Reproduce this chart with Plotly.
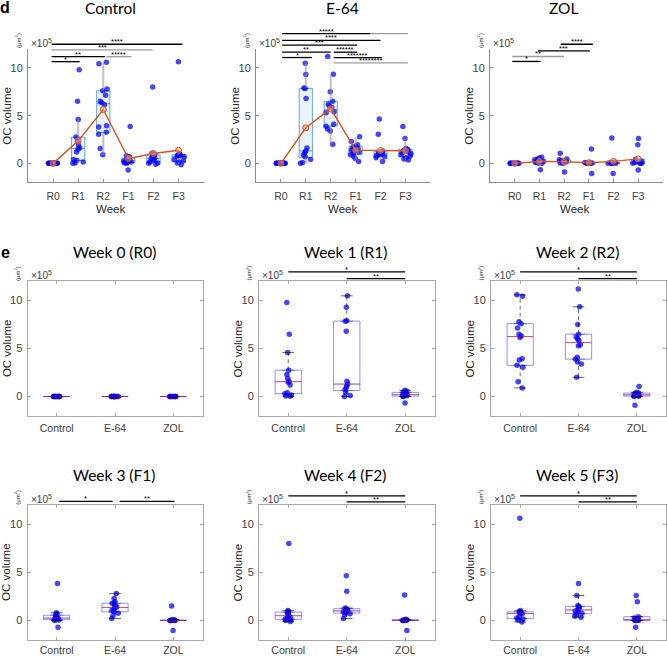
import numpy as np
import plotly.graph_objects as go

W, H = 667, 656

weeks = ["R0", "R1", "R2", "F1", "F2", "F3"]
groups = ["Control", "E-64", "ZOL"]
week_titles = ["Week 0 (R0)", "Week 1 (R1)", "Week 2 (R2)",
               "Week 3 (F1)", "Week 4 (F2)", "Week 5 (F3)"]

# OC volume (x 1e5 um^3) per animal
control_R0 = [0, 0, 0, 0, 0, 0, 0, 0, 0, 0, 0, 0, 0]
control_R1 = [9.8, 6.5, 4.6, 2.75, 2.3, 1.9, 1.6, 1.5, 1.2, 0.4, 0.3, 0.15, 0.05, 0.02]
control_R2 = [10.6, 10.45, 7.8, 7.6, 7.15, 6.5, 6.35, 6.15, 3.95, 3.8, 3.25, 3.05, 1.55, 0.9]
control_F1 = [3.85, 0.8, 0.7, 0.5, 0.4, 0.3, 0.25, 0.2, 0.15, 0.1, 0.05, 0.0, -0.7]
control_F2 = [8.0, 1.05, 0.95, 0.85, 0.75, 0.6, 0.5, 0.35, 0.25, 0.15, 0.05, 0.0, -0.1]
control_F3 = [10.65, 1.05, 0.95, 0.85, 0.8, 0.75, 0.7, 0.4, 0.25, 0.15, 0.05, -0.15]

e64_R0 = [0, 0, 0, 0, 0, 0, 0, 0, 0, 0, 0, 0, 0]
e64_R1 = [10.5, 9.3, 7.9, 7.85, 6.8, 1.6, 1.3, 1.1, 0.9, 0.7, 0.4, 0.1, 0.0]
e64_R2 = [11.2, 9.35, 7.5, 6.5, 6.2, 6.0, 5.85, 5.4, 5.3, 4.1, 3.9, 3.6, 3.4, 2.0]
e64_F1 = [2.8, 2.3, 1.95, 1.8, 1.7, 1.55, 1.4, 1.3, 1.2, 1.05, 0.9, 0.75, 0.5, 0.2]
e64_F2 = [4.65, 3.05, 1.3, 1.2, 1.15, 1.05, 1.0, 0.95, 0.9, 0.8, 0.7, 0.6, 0.2]
e64_F3 = [3.85, 2.6, 1.55, 1.45, 1.35, 1.2, 1.1, 1.0, 0.9, 0.75, 0.6, 0.45, 0.35]

zol_R0 = [0, 0, 0, 0, 0, 0, 0, 0, 0, 0]
zol_R1 = [0.65, 0.55, 0.45, 0.38, 0.3, 0.2, 0.15, 0.08, 0.02, 0.0, -0.68]
zol_R2 = [1.05, 0.45, 0.38, 0.3, 0.25, 0.18, 0.12, 0.08, 0.03, 0.0, -0.9]
zol_F1 = [1.5, 0.1, 0.05, 0.02, 0.0, 0.0, 0.0, 0.0, -1.05]
zol_F2 = [2.65, 0.12, 0.08, 0.05, 0.02, 0.0, 0.0, 0.0, -1.05]
zol_F3 = [2.6, 1.95, 0.4, 0.25, 0.1, 0.05, 0.0, 0.0, 0.0, -0.7]

data = {
    "Control": [control_R0, control_R1, control_R2, control_F1, control_F2, control_F3],
    "E-64": [e64_R0, e64_R1, e64_R2, e64_F1, e64_F2, e64_F3],
    "ZOL": [zol_R0, zol_R1, zol_R2, zol_F1, zol_F2, zol_F3],
}

# significance bars: (x start, x end, level, label, colour)
sig_top = {
    "Control": [(0.94, 2.06, 10.66, "*", "k"), (0.94, 3.06, 11.18, "**", "k"),
                (3.13, 4.12, 11.18, "*****", "g"), (0.94, 4.96, 11.9, "***", "g"),
                (0.94, 6.15, 12.48, "****", "k")],
    "E-64": [(1.05, 4.6, 13.6, "*****", "k"), (4.6, 6.1, 13.6, "", "g"),
             (1.05, 5.0, 12.89, "****", "k"), (1.05, 4.06, 12.4, "***", "k"),
             (1.05, 3.0, 11.65, "**", "k"), (3.12, 4.06, 11.65, "******", "k"),
             (1.05, 2.25, 11.09, "*", "k"), (3.12, 5.06, 11.09, "*******", "k"),
             (3.12, 6.1, 10.52, "********", "g")],
    "ZOL": [(0.9, 2.05, 10.68, "*", "k"), (0.9, 3.0, 11.2, "**", "g"),
            (1.94, 4.04, 11.79, "***", "k"), (2.86, 4.17, 12.48, "****", "k")],
}
sig_bottom = [
    [],
    [(1.0, 3.0, 13.0, "*", "k"), (2.0, 3.0, 12.3, "**", "k")],
    [(1.0, 3.0, 13.0, "*", "k"), (2.0, 3.0, 12.3, "**", "k")],
    [(1.04, 1.96, 12.4, "*", "k"), (2.08, 3.02, 12.4, "**", "k")],
    [(1.0, 3.0, 12.97, "*", "k"), (2.0, 3.0, 12.35, "**", "k")],
    [(1.0, 3.0, 12.97, "*", "k"), (2.0, 3.0, 12.35, "**", "k")],
]

def mprct(v, p):
    s = np.sort(np.asarray(v, float))
    n = len(s)
    pos = n * p / 100.0 + 0.5
    if pos <= 1:
        return s[0]
    if pos >= n:
        return s[-1]
    lo = int(np.floor(pos))
    fr = pos - lo
    return s[lo - 1] + fr * (s[lo] - s[lo - 1])

def stats(v):
    v = np.asarray(v, float)
    q1, md, q3 = mprct(v, 25), mprct(v, 50), mprct(v, 75)
    iqr = q3 - q1
    lw = v[v >= q1 - 1.5 * iqr].min()
    uw = v[v <= q3 + 1.5 * iqr].max()
    return q1, md, q3, lw, uw

# panel geometry in pixels (left, right), (top, bottom)
panels = []
for g, (l, r) in zip(groups, [(28, 203.7), (256, 430.3), (490, 662.9)]):
    panels.append(dict(kind="top", group=g, xpx=(l, r), ypx=(49, 183), xr=(0, 7), yr=(-2, 12),
                       standoff=4))
cols = [(27.5, 202.5), (259, 434.5), (491, 666)]
rows = [(282.3, 417), (506.7, 641.7)]
for w in range(6):
    r_ = rows[w // 3]
    c_ = cols[w % 3]
    panels.append(dict(kind="bottom", week=w, xpx=c_, ypx=r_, xr=(0.5, 3.5), yr=(-2, 12),
                       standoff=3 if w < 3 else 1))

def fx(p, v):
    l, r = p["xpx"]
    a, b = p["xr"]
    return (l + (v - a) / (b - a) * (r - l)) / W

def fy(p, v):
    t, b = p["ypx"]
    a, c = p["yr"]
    return 1 - (b - (v - a) / (c - a) * (b - t)) / H

FONT = "Liberation Sans, Arial, sans-serif"
TFONT = "Lato, Open Sans, sans-serif"
PT = "rgba(0,0,255,0.72)"

def note(text, xp, yp, size, color="#262626", family=None, angle=0, xanchor="center",
         yanchor="middle", yshift=0):
    f = dict(size=size, color=color)
    if family:
        f["family"] = family
    return dict(text=text, x=xp / W, y=1 - yp / H, xref="paper", yref="paper",
                showarrow=False, xanchor=xanchor, yanchor=yanchor, textangle=angle,
                yshift=yshift, font=f)

fig = go.Figure()
layout = dict(width=W, height=H, margin=dict(l=0, r=0, t=0, b=0),
              paper_bgcolor="white", plot_bgcolor="white", showlegend=False,
              boxmode="overlay", font=dict(family=FONT, size=11, color="#404040"))
shapes, annos = [], []

for i, p in enumerate(panels, start=1):
    xa, ya = f"x{i}", f"y{i}"
    top = p["kind"] == "top"
    lc = "#8c8c8c" if top else "#a8a8a8"
    layout[f"xaxis{i}"] = dict(
        domain=[p["xpx"][0] / W, p["xpx"][1] / W], anchor=ya, range=list(p["xr"]),
        tickvals=list(range(1, 7)) if top else [1, 2, 3],
        ticktext=weeks if top else groups,
        showline=True, linecolor=lc, linewidth=1, mirror=False if top else "ticks",
        ticks="inside", ticklen=3, tickcolor=lc, showgrid=False, zeroline=False,
        tickfont=dict(size=10.5, color="#404040"), ticklabelstandoff=p["standoff"],
        fixedrange=True)
    layout[f"yaxis{i}"] = dict(
        domain=[1 - p["ypx"][1] / H, 1 - p["ypx"][0] / H], anchor=xa, range=list(p["yr"]),
        tickvals=[0, 5, 10], showline=True, linecolor=lc, linewidth=1,
        mirror=False if top else "ticks", ticks="inside", ticklen=3, tickcolor=lc,
        showgrid=False, zeroline=False, tickfont=dict(size=11, color="#404040"),
        ticklabelstandoff=2, fixedrange=True)

    if top:
        g = p["group"]
        series = data[g]
        xs = list(range(1, 7))
        st = [stats(v) for v in series]
        fig.add_trace(go.Box(
            x=xs, q1=[s[0] for s in st], median=[s[1] for s in st], q3=[s[2] for s in st],
            lowerfence=[s[0] for s in st], upperfence=[s[2] for s in st],
            width=0.53, fillcolor="rgba(0,114,189,0.08)", boxpoints=False,
            line=dict(color="rgba(0,114,189,0.6)", width=1), xaxis=xa, yaxis=ya))
        wx, wy = [], []
        for k, s in zip(xs, st):
            wx += [k, k, None, k, k, None]
            wy += [s[2], s[4], None, s[0], s[3], None]
        fig.add_trace(go.Scatter(x=wx, y=wy, mode="lines",
                                 line=dict(color="rgba(140,140,140,0.55)", width=2),
                                 xaxis=xa, yaxis=ya, hoverinfo="skip"))
        px_, py_ = [], []
        for k, v in zip(xs, series):
            px_ += [k] * len(v)
            py_ += list(v)
        fig.add_trace(go.Box(x=px_, y=py_, boxpoints="all", jitter=0.9, pointpos=0,
                             width=0.5, fillcolor="rgba(0,0,0,0)",
                             line=dict(width=0, color="rgba(0,0,0,0)"),
                             marker=dict(color=PT, size=5.5), xaxis=xa, yaxis=ya))
        fig.add_trace(go.Scatter(
            x=xs, y=[float(np.mean(v)) for v in series], mode="lines+markers",
            line=dict(color="#d95319", width=1.4),
            marker=dict(symbol="circle", size=6, color="rgba(240,160,120,0.55)",
                        line=dict(color="#d95319", width=1)),
            xaxis=xa, yaxis=ya))
        bars = sig_top[g]
        annos.append(note("Week", {"Control": 110, "E-64": 343, "ZOL": 574}[g], 210, 11.5))
        annos.append(note(g, {"Control": 110.5, "E-64": 343, "ZOL": 563.5}[g], 8, 15.5,
                          color="black", family=TFONT))
    else:
        w = p["week"]
        series = [data[g][w] for g in groups]
        xs = [1, 2, 3]
        st = [stats(v) for v in series]
        bw = 0.45
        fig.add_trace(go.Box(
            x=xs, q1=[s[0] for s in st], median=[s[1] for s in st], q3=[s[2] for s in st],
            lowerfence=[s[0] for s in st], upperfence=[s[2] for s in st],
            width=bw, fillcolor="rgba(0,0,0,0)", boxpoints=False,
            line=dict(color="rgba(40,40,255,0.5)", width=1), xaxis=xa, yaxis=ya))
        px_, py_ = [], []
        for k, v in zip(xs, series):
            px_ += [k] * len(v)
            py_ += list(v)
        fig.add_trace(go.Box(x=px_, y=py_, boxpoints="all", jitter=0.3, pointpos=0,
                             width=bw, fillcolor="rgba(0,0,0,0)",
                             line=dict(width=0, color="rgba(0,0,0,0)"),
                             marker=dict(color=PT, size=5.5), xaxis=xa, yaxis=ya))
        wx, wy, cx, cy, mx, my = [], [], [], [], [], []
        for k, s in zip(xs, st):
            wx += [k, k, None, k, k, None]
            wy += [s[2], s[4], None, s[0], s[3], None]
            cx += [k - 0.1, k + 0.1, None, k - 0.1, k + 0.1, None]
            cy += [s[4], s[4], None, s[3], s[3], None]
            mx += [k - bw / 2, k + bw / 2, None]
            my += [s[1], s[1], None]
        fig.add_trace(go.Scatter(x=wx, y=wy, mode="lines",
                                 line=dict(color="rgba(0,0,0,0.55)", width=1, dash="4px,3px"),
                                 xaxis=xa, yaxis=ya, hoverinfo="skip"))
        fig.add_trace(go.Scatter(x=cx, y=cy, mode="lines",
                                 line=dict(color="rgba(0,0,0,0.6)", width=1),
                                 xaxis=xa, yaxis=ya, hoverinfo="skip"))
        fig.add_trace(go.Scatter(x=mx, y=my, mode="lines",
                                 line=dict(color="rgba(255,0,0,0.45)", width=1),
                                 xaxis=xa, yaxis=ya, hoverinfo="skip"))
        bars = sig_bottom[w]
        annos.append(note(week_titles[w], [114, 345, 577][w % 3], [253, 476.5][w // 3], 15.5,
                          color="black", family=TFONT))

    # y-axis title, exponent, units
    l, r = p["xpx"]
    t, b = p["ypx"]
    annos.append(note("OC volume", l - 21, (t + b) / 2, 11.5, angle=-90))
    annos.append(note("×10<sup>5</sup>", l + 1, t - 6, 10, color="#404040", xanchor="left"))
    annos.append(note("(μm<sup>2</sup>)", l - 10, t - 8, 6, angle=-90))

    for (x0, x1, lev, lab, c) in bars:
        col = "black" if c == "k" else "#9a9a9a"
        shapes.append(dict(type="line", xref="paper", yref="paper",
                           x0=fx(p, x0), x1=fx(p, x1), y0=fy(p, lev), y1=fy(p, lev),
                           line=dict(color=col, width=1.3)))
        if lab:
            annos.append(dict(text=lab, x=fx(p, (x0 + x1) / 2), y=fy(p, lev),
                              xref="paper", yref="paper", showarrow=False,
                              xanchor="center", yanchor="bottom", yshift=-4,
                              font=dict(size=7.5, color="black")))

annos.append(note("<b>d</b>", 5, 8, 16, color="black"))
annos.append(note("<b>e</b>", 5, 253, 16, color="black"))

layout["shapes"] = shapes
layout["annotations"] = annos
fig.update_layout(**layout)
fig.write_html(
    "out.html", config={"displayModeBar": False},
    post_script=("document.body.style.margin='0px';document.body.style.overflow='hidden';"
                 "document.documentElement.style.overflow='hidden';"))
